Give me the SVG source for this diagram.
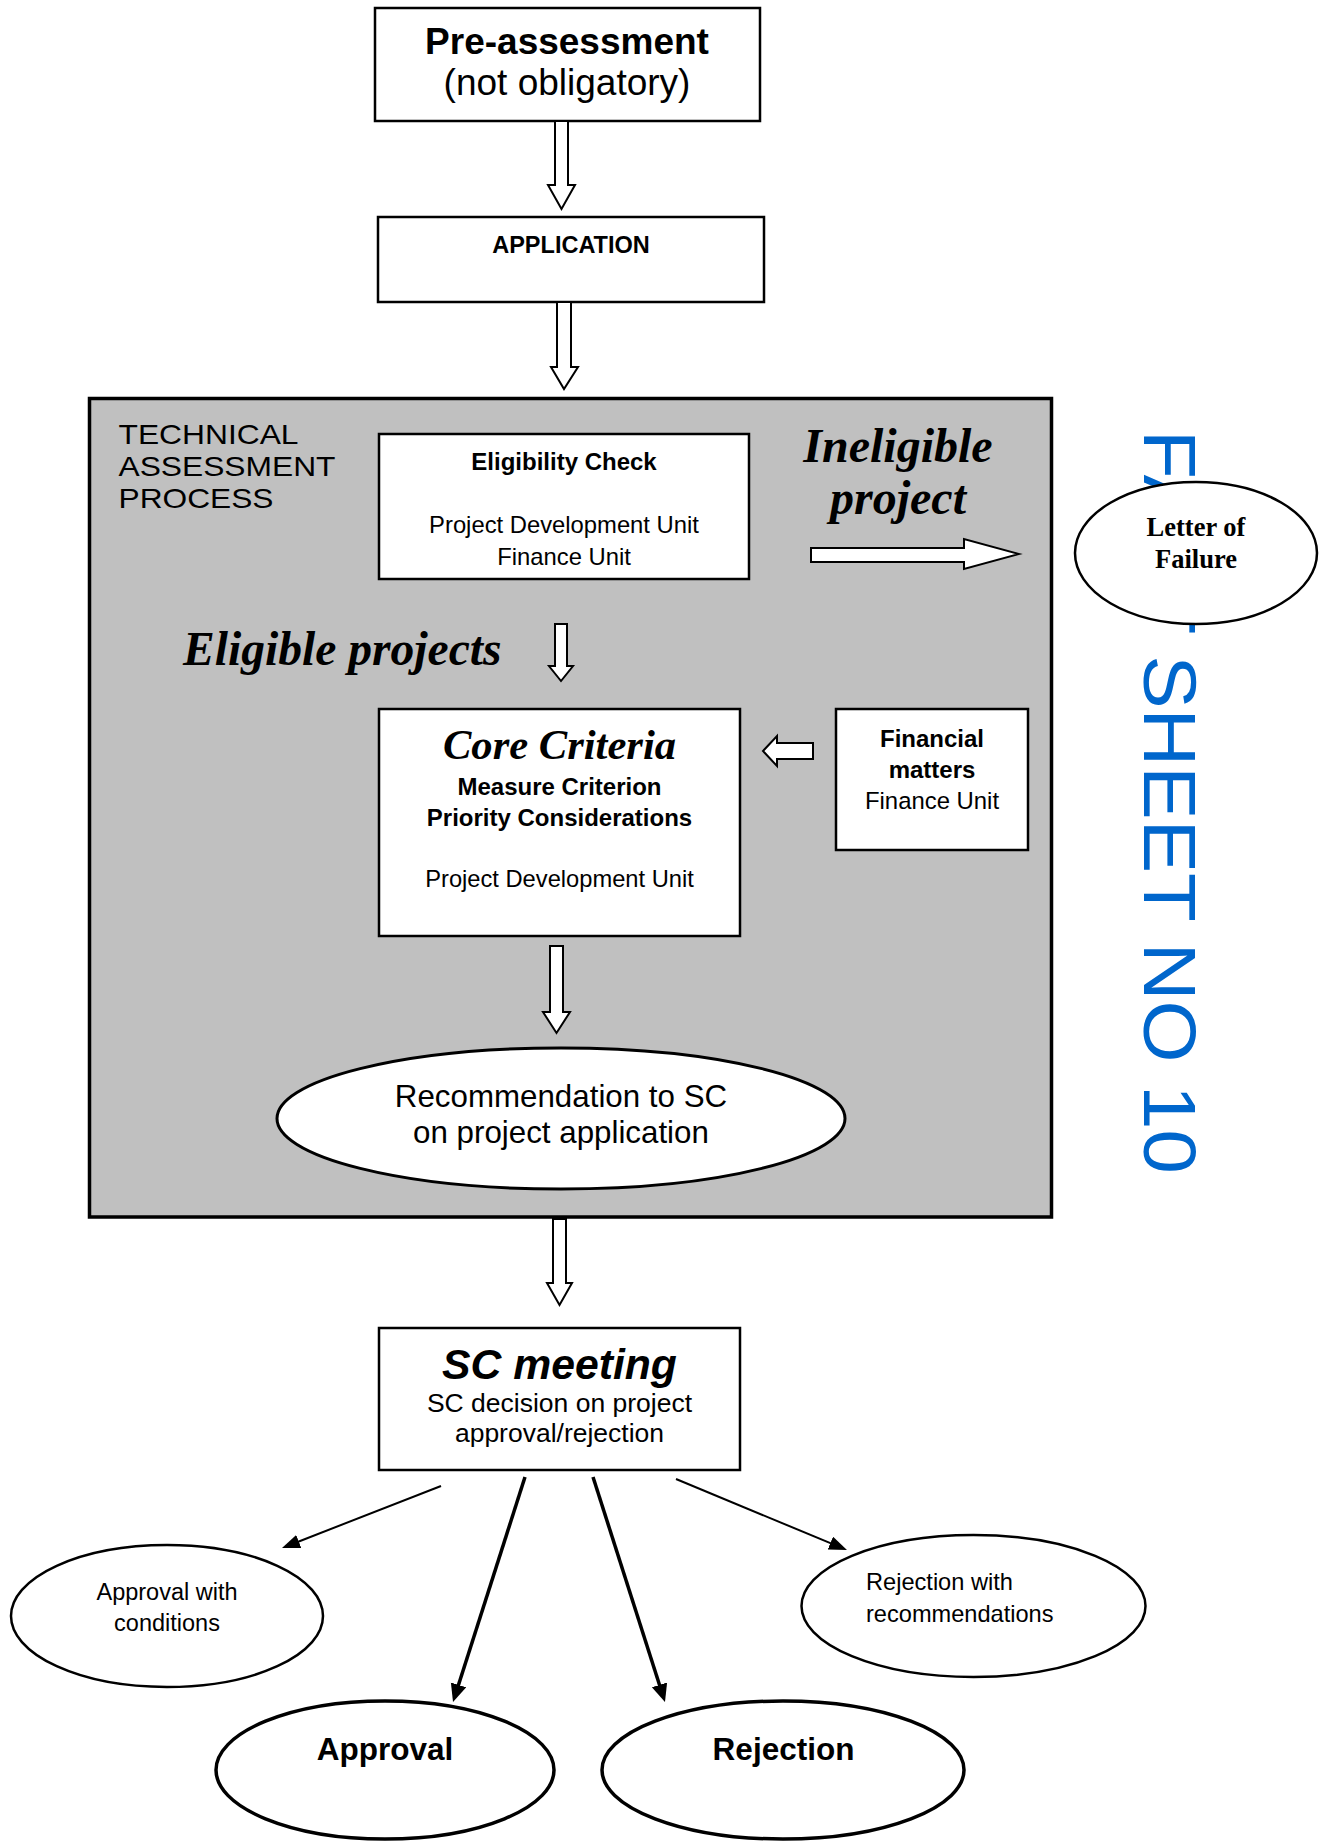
<svg xmlns="http://www.w3.org/2000/svg" width="1324" height="1841" viewBox="0 0 1324 1841">
<style>
.box{fill:#fff;stroke:#000;stroke-width:2.5}
.ell{fill:#fff;stroke:#000;stroke-width:2.5}
.ellb{fill:#fff;stroke:#000;stroke-width:3.5}
.harrow{fill:#fff;stroke:#000;stroke-width:2;stroke-linejoin:miter}
.s{font-family:"Liberation Sans",Arial,sans-serif;fill:#000}
.r{font-family:"Liberation Serif","Times New Roman",serif;fill:#000;font-weight:bold;font-style:italic}
.b{font-weight:bold}
.c{text-anchor:middle}
.thin{stroke:#000;stroke-width:2;fill:none}
.thick{stroke:#000;stroke-width:3.5;fill:none}
</style>
<defs>
<marker id="ah" markerUnits="userSpaceOnUse" markerWidth="20" markerHeight="16" refX="2" refY="7" orient="auto">
<path d="M0,0 L18,7 L0,14 z" fill="#000"/>
</marker>
<marker id="ahb" markerUnits="userSpaceOnUse" markerWidth="20" markerHeight="18" refX="2" refY="8" orient="auto">
<path d="M0,0 L18,8 L0,16 z" fill="#000"/>
</marker>
</defs>

<text class="s" font-size="80" style="fill:#0066cc" transform="translate(1144,430) rotate(90) scale(1,0.93)">FACT SHEET NO 10</text>

<g id="pre-assessment">
<rect class="box" x="375" y="8" width="385" height="113"/>
<text class="s b c" font-size="37" x="567" y="54">Pre-assessment</text>
<text class="s c" font-size="37" x="567" y="95">(not obligatory)</text>
</g>

<g id="application">
<rect class="box" x="378" y="217" width="386" height="85"/>
<text class="s b c" font-size="23.5" x="571" y="253">APPLICATION</text>
</g>

<g id="technical-assessment">
<rect x="89.5" y="398.5" width="962" height="818.5" fill="#c0c0c0" stroke="#000" stroke-width="3.5"/>
<text class="s" font-size="28" x="118.5" y="444" textLength="180" lengthAdjust="spacingAndGlyphs">TECHNICAL</text>
<text class="s" font-size="28" x="118.5" y="476" textLength="217" lengthAdjust="spacingAndGlyphs">ASSESSMENT</text>
<text class="s" font-size="28" x="118.5" y="508" textLength="155" lengthAdjust="spacingAndGlyphs">PROCESS</text>
</g>

<g id="eligibility-check">
<rect class="box" x="379" y="434" width="370" height="145"/>
<text class="s b c" font-size="24" x="564" y="470">Eligibility Check</text>
<text class="s c" font-size="23.8" x="564" y="533">Project Development Unit</text>
<text class="s c" font-size="23.8" x="564" y="565">Finance Unit</text>
</g>

<g id="ineligible-label">
<text class="r c" font-size="48" x="898" y="462">Ineligible</text>
<text class="r c" font-size="48" x="898" y="514">project</text>
</g>

<g id="eligible-label">
<text class="r" font-size="47.6" x="183" y="665">Eligible projects</text>
</g>

<g id="core-criteria">
<rect class="box" x="379" y="709" width="361" height="227"/>
<text class="r c" font-size="42.6" x="559.5" y="759">Core Criteria</text>
<text class="s b c" font-size="24" x="559.5" y="795">Measure Criterion</text>
<text class="s b c" font-size="24" x="559.5" y="826">Priority Considerations</text>
<text class="s c" font-size="23.7" x="559.5" y="887">Project Development Unit</text>
</g>

<g id="financial-matters">
<rect class="box" x="836" y="709" width="192" height="141"/>
<text class="s b c" font-size="24" x="932" y="747">Financial</text>
<text class="s b c" font-size="24" x="932" y="778">matters</text>
<text class="s c" font-size="23.9" x="932" y="809">Finance Unit</text>
</g>

<g id="recommendation">
<ellipse class="ell" style="stroke-width:3" cx="561" cy="1118.5" rx="284" ry="70.5"/>
<text class="s c" font-size="31.3" x="561" y="1107">Recommendation to SC</text>
<text class="s c" font-size="31.3" x="561" y="1143">on project application</text>
</g>

<g id="letter-of-failure">
<ellipse class="ell" cx="1196" cy="553" rx="121" ry="71"/>
<text class="r c" font-size="26.5" style="font-style:normal" x="1196" y="536">Letter of</text>
<text class="r c" font-size="26.5" style="font-style:normal" x="1196" y="568">Failure</text>
</g>

<g id="sc-meeting">
<rect class="box" x="379" y="1328" width="361" height="142"/>
<text class="s b c" font-size="42.7" font-style="italic" x="559.5" y="1379">SC meeting</text>
<text class="s c" font-size="26.5" x="559.5" y="1412">SC decision on project</text>
<text class="s c" font-size="26.5" x="559.5" y="1442">approval/rejection</text>
</g>

<g id="approval-with-conditions">
<ellipse class="ell" cx="167" cy="1616" rx="156" ry="71"/>
<text class="s c" font-size="23.5" x="167" y="1600">Approval with</text>
<text class="s c" font-size="23.5" x="167" y="1631">conditions</text>
</g>

<g id="approval">
<ellipse class="ellb" cx="385" cy="1770" rx="169" ry="69"/>
<text class="s b c" font-size="31.5" x="385" y="1760">Approval</text>
</g>

<g id="rejection">
<ellipse class="ellb" cx="783" cy="1770" rx="181" ry="69"/>
<text class="s b c" font-size="31.5" x="783.5" y="1760">Rejection</text>
</g>

<g id="rejection-with-recommendations">
<ellipse class="ell" cx="973.5" cy="1606" rx="172" ry="71"/>
<text class="s" font-size="23.6" x="866" y="1590">Rejection with</text>
<text class="s" font-size="23.6" x="866" y="1622">recommendations</text>
</g>

<g id="connectors">
<polygon class="harrow" points="555,121 568,121 568,185 575,185 561.5,209 548,185 555,185"/>
<polygon class="harrow" points="557,302 571,302 571,367 578,367 564,389 551,367 557,367"/>
<polygon class="harrow" points="811,548 964,548 964,539 1019,554 964,569 964,562 811,562"/>
<polygon class="harrow" points="555,624 567,624 567,666 573,666 561,681 549,666 555,666"/>
<polygon class="harrow" points="813,743 777,743 777,736 763,751 777,766 777,759 813,759"/>
<polygon class="harrow" points="550,946 563,946 563,1012 570,1012 556.5,1033 543,1012 550,1012"/>
<polygon class="harrow" points="553,1219 566,1219 566,1283 572,1283 559.5,1305 547,1283 553,1283"/>
<line class="thin" x1="441" y1="1486" x2="296.9" y2="1542.2" marker-end="url(#ah)"/>
<line class="thick" x1="525" y1="1477" x2="457.9" y2="1686.8" marker-end="url(#ahb)"/>
<line class="thick" x1="593" y1="1477" x2="660.1" y2="1686.8" marker-end="url(#ahb)"/>
<line class="thin" x1="676" y1="1479" x2="832.2" y2="1543.9" marker-end="url(#ah)"/>
</g>
</svg>
